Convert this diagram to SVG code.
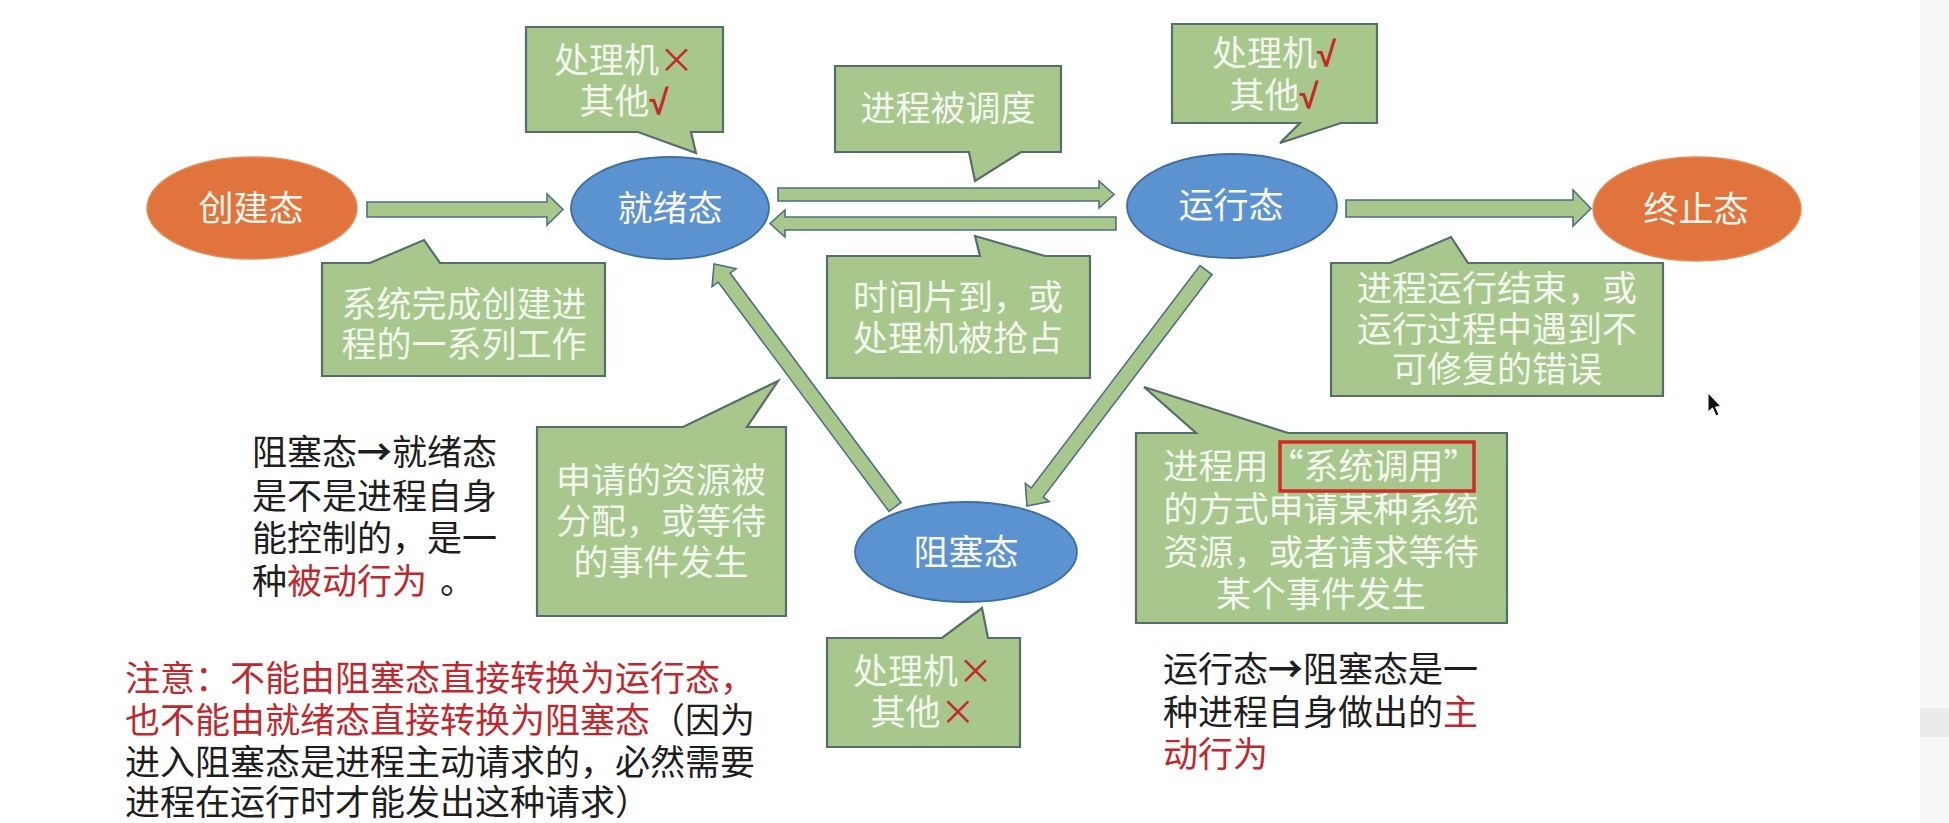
<svg xmlns="http://www.w3.org/2000/svg" width="1949" height="823" viewBox="0 0 1949 823">
<style>
text{font-family:"Noto Sans CJK SC","Noto Sans",sans-serif;font-size:35px}
.orange{fill:#E0743C;stroke:#E58A58;stroke-width:1.5}
.blue{fill:#5A93D0;stroke:#3F6E9E;stroke-width:1.8}
.lbl{fill:#FAF6EE;text-anchor:middle}
.callout{fill:#A7C78C;stroke:#566E6A;stroke-width:2.2}
.ct{fill:#F4F7EF;text-anchor:middle}
.arrow{fill:#A7C78C;stroke:#4D7280;stroke-width:1.6;stroke-linejoin:miter}
.red{fill:#C0282D}
.blk{fill:#1E1E1E}
.mark{fill:#C8282A}
.chk{fill:#C8282A;font-family:"Liberation Sans","DejaVu Sans",sans-serif;font-weight:bold}
</style>
<rect width="1949" height="823" fill="#FFFFFF"/>
<rect x="1920" y="0" width="29" height="823" fill="#F7F7F7"/>
<rect x="1920" y="708" width="29" height="29" fill="#EBEBEB"/>

<g id="connectors">
<polygon class="arrow" points="367,202 547,202 547,194 563,209.5 547,225 547,217 367,217"/>
<polygon class="arrow" points="778,188 1099,188 1099,181 1114,194.5 1099,208 1099,201 778,201"/>
<polygon class="arrow" points="1116,217 785,217 785,210 770,223.5 785,237 785,230 1116,230"/>
<polygon class="arrow" points="1346,200 1573,200 1573,190 1591,208.5 1573,226 1573,217 1346,217"/>
<polygon class="arrow" points="901,502.5 730.1,273.1 736.1,268.6 714,264 712.1,286.6 718.1,282.1 889,511.5"/>
<polygon class="arrow" points="1212,274.5 1043.3,497 1049.3,501.6 1027,506 1025.3,483.4 1031.3,488 1200,265.5"/>
</g>

<g id="node-create">
<ellipse class="orange" cx="252" cy="208" rx="105" ry="51"/>
<text class="lbl" x="251" y="221">创建态</text>
</g>
<g id="node-ready">
<ellipse class="blue" cx="670" cy="208" rx="99" ry="51"/>
<text class="lbl" x="670" y="221">就绪态</text>
</g>
<g id="node-running">
<ellipse class="blue" cx="1232" cy="206" rx="105" ry="52"/>
<text class="lbl" x="1231" y="218">运行态</text>
</g>
<g id="node-terminated">
<ellipse class="orange" cx="1697" cy="209" rx="104" ry="52"/>
<text class="lbl" x="1696" y="222">终止态</text>
</g>
<g id="node-blocked">
<ellipse class="blue" cx="966" cy="552" rx="111" ry="50"/>
<text class="lbl" x="966" y="565">阻塞态</text>
</g>

<g id="callout-ready-resources">
<path class="callout" d="M526,27 H723 V132 H691 L696,153 L638,132 H526 Z"/>
<text class="ct" x="624" y="73">处理机<tspan class="mark">×</tspan></text>
<text class="ct" x="624" y="114">其他<tspan class="chk">√</tspan></text>
</g>
<g id="callout-create">
<path class="callout" d="M322,263 H370 L424,240 L440,263 H605 V376 H322 Z"/>
<text class="ct" x="464" y="317">系统完成创建进</text>
<text class="ct" x="464" y="357">程的一系列工作</text>
</g>
<g id="callout-dispatch">
<path class="callout" d="M835,66 H1061 V152 H1021 L975,181 L969,152 H835 Z"/>
<text class="ct" x="948" y="121">进程被调度</text>
</g>
<g id="callout-running-resources">
<path class="callout" d="M1172,24 H1377 V123 H1341 L1280,143 L1300,123 H1172 Z"/>
<text class="ct" x="1274" y="66">处理机<tspan class="chk">√</tspan></text>
<text class="ct" x="1274" y="108">其他<tspan class="chk">√</tspan></text>
</g>
<g id="callout-timeout">
<path class="callout" d="M827,256 H980 L975,236 L1045,256 H1090 V378 H827 Z"/>
<text class="ct" x="958" y="310">时间片到，或</text>
<text class="ct" x="958" y="351">处理机被抢占</text>
</g>
<g id="callout-exit">
<path class="callout" d="M1331,263 H1390 L1451,237 L1468,263 H1663 V396 H1331 Z"/>
<text class="ct" x="1497" y="301">进程运行结束，或</text>
<text class="ct" x="1497" y="342">运行过程中遇到不</text>
<text class="ct" x="1497" y="382">可修复的错误</text>
</g>
<g id="callout-wakeup">
<path class="callout" d="M537,427 H683 L778,381 L747,427 H786 V616 H537 Z"/>
<text class="ct" x="661" y="493">申请的资源被</text>
<text class="ct" x="661" y="534">分配，或等待</text>
<text class="ct" x="661" y="575">的事件发生</text>
</g>
<g id="callout-block">
<path class="callout" d="M1136,433 H1196 L1144,387 L1288,433 H1507 V623 H1136 Z"/>
<text class="ct" x="1321" y="479">进程用“系统调用”</text>
<text class="ct" x="1321" y="522">的方式申请某种系统</text>
<text class="ct" x="1321" y="565">资源，或者请求等待</text>
<text class="ct" x="1321" y="607">某个事件发生</text>
<rect x="1280" y="442" width="194" height="49" fill="none" stroke="#D42A24" stroke-width="3.5"/>
</g>
<g id="callout-blocked-resources">
<path class="callout" d="M827,638 H942 L982,608 L988,638 H1020 V747 H827 Z"/>
<text class="ct" x="923" y="684">处理机<tspan class="mark">×</tspan></text>
<text class="ct" x="923" y="725">其他<tspan class="mark">×</tspan></text>
</g>

<g id="note-blocked-to-ready">
<text class="blk" x="252" y="465">阻塞态<tspan font-weight="bold">→</tspan>就绪态</text>
<text class="blk" x="252" y="509">是不是进程自身</text>
<text class="blk" x="252" y="551">能控制的，是一</text>
<text class="blk" x="252" y="594">种<tspan class="red">被动行为</tspan><tspan x="440">。</tspan></text>
</g>
<g id="note-warning">
<text class="red" x="125" y="691">注意：不能由阻塞态直接转换为运行态，</text>
<text class="red" x="125" y="733">也不能由就绪态直接转换为阻塞态<tspan class="blk">（因为</tspan></text>
<text class="blk" x="125" y="775">进入阻塞态是进程主动请求的，必然需要</text>
<text class="blk" x="125" y="815">进程在运行时才能发出这种请求）</text>
</g>
<g id="note-running-to-blocked">
<text class="blk" x="1163" y="682">运行态<tspan font-weight="bold">→</tspan>阻塞态是一</text>
<text class="blk" x="1163" y="725">种进程自身做出的<tspan class="red">主</tspan></text>
<text class="red" x="1163" y="767">动行为</text>
</g>

<g id="cursor">
<polygon points="1708,393 1708,412 1712.5,408 1716,416 1719,414.5 1715.5,407 1721,406.5 Z" fill="#111111" stroke="#FFFFFF" stroke-width="1"/>
</g>
</svg>
